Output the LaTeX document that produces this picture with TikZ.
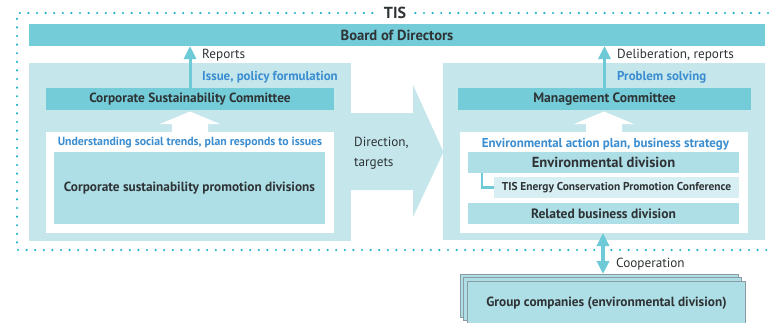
\documentclass[tikz,border=0pt]{standalone}
\usepackage{fontspec}
\setmainfont{PT Sans}
\usetikzlibrary{arrows.meta}
\definecolor{dotc}{HTML}{1FB3C9}
\definecolor{barc}{HTML}{73CCD8}
\definecolor{panelc}{HTML}{C5E7EC}
\definecolor{innerc}{HTML}{AFDFE6}
\definecolor{palec}{HTML}{D7EFF3}
\definecolor{bluet}{HTML}{3A8DD0}
\definecolor{darkt}{HTML}{2E3336}
\definecolor{arrowc}{HTML}{6DCAD6}
\definecolor{edgec}{HTML}{8C9BA1}
\newcommand{\fsz}[1]{\fontsize{#1}{#1}\selectfont}
\begin{document}
\begin{tikzpicture}[x=1pt,y=-1pt,
  box/.style={inner sep=0pt, outer sep=0pt, anchor=center, text=darkt,
    font=\bfseries\fsz{13.3}},
  bar/.style={box, fill=barc},
  panel/.style={box, fill=panelc},
  whitebox/.style={box, fill=white},
  innerbox/.style={box, fill=innerc},
  palebox/.style={box, fill=palec, font=\bfseries\fsz{11.4}},
  grpbox/.style={box, fill=innerc, draw=edgec, line width=0.8pt},
  bluelabel/.style={inner sep=0pt, text=bluet, font=\bfseries\fsz{12.9}},
  graylabel/.style={inner sep=0pt, anchor=west, text=darkt, font=\fontsize{13.2}{20}\selectfont},
  thinarrow/.style={draw=arrowc, line width=3pt, -{Triangle[width=12pt,length=13pt]}},
  coop/.style={draw=arrowc, line width=4pt, {Triangle[width=12pt,length=13pt]}-{Triangle[width=12pt,length=13pt]}},
  dotline/.style={draw=dotc, line width=2.4pt, line cap=round, dash pattern=on 0pt off 8.6pt},
  ]
\useasboundingbox (0,0) rectangle (771,322);
% TIS frame
\coordinate (ftl) at (17,13);
\coordinate (ftr) at (768,13);
\coordinate (fbl) at (17,250);
\coordinate (fbr) at (768,250);
\draw[dotline] (ftr) -- (ftl) -- (fbl) -- (fbr);
\node[fill=white, inner sep=4pt, text=darkt, font=\bfseries\fsz{16}] (tis) at (395,13) {TIS};
% Board
\node[bar, minimum width=736pt, minimum height=22pt, font=\bfseries\fsz{14.6}] (board) at (397,35) {Board of Directors};
% panels
\node[panel, minimum width=322pt, minimum height=178pt] (lpanel) at (190,152) {};
\node[panel, minimum width=322pt, minimum height=177pt] (rpanel) at (604,151.5) {};
% chevron
\fill[panelc] (340,113) -- (413,113) -- (413,85) -- (443.5,152) -- (413,217) -- (413,190) -- (340,190) -- cycle;
% committees
\node[bar, minimum width=288pt, minimum height=22pt] (csc) at (190,99) {Corporate Sustainability Committee};
\node[bar, minimum width=293pt, minimum height=22pt, font=\bfseries\fsz{13.6}] (mc) at (604.5,99) {Management Committee};
% white boxes
\node[whitebox, minimum width=288pt, minimum height=101pt] (lwhite) at (190,182.5) {};
\node[whitebox, minimum width=288pt, minimum height=101pt] (rwhite) at (604,182.5) {};
% white block arrows
\fill[white] (172,133) -- (172,124) -- (160,124) -- (190,111.5) -- (220,124) -- (208,124) -- (208,133) -- cycle;
\fill[white] (586,133) -- (586,124) -- (574,124) -- (604,111.5) -- (634,124) -- (622,124) -- (622,133) -- cycle;
% blue texts
\node[bluelabel, font=\bfseries\fsz{11.8}] (ltxt) at (190,143) {Understanding social trends, plan responds to issues};
\node[bluelabel] (rtxt) at (605.5,144) {Environmental action plan, business strategy};
% inner boxes
\node[innerbox, minimum width=271pt, minimum height=72pt] (cspd) at (189.5,188) {Corporate sustainability promotion divisions};
\node[innerbox, minimum width=271pt, minimum height=21pt, font=\bfseries\fsz{14.6}] (env) at (603.5,162.5) {Environmental division};
\node[palebox, minimum width=245pt, minimum height=21pt] (conf) at (616.5,187.5) {TIS Energy Conservation Promotion Conference};
\node[innerbox, minimum width=271pt, minimum height=21pt, font=\bfseries\fsz{13.5}] (rel) at (603.5,213.5) {Related business division};
\draw[arrowc, line width=2.5pt] (env.south -| 482,0) |- (conf.west);
% arrows to board
\draw[thinarrow] (csc.north) -- (csc.north |- board.south);
\draw[thinarrow] (mc.north) -- (mc.north |- board.south);
% labels
\node[graylabel] (rep) at (202,55) {Reports};
\node[bluelabel, anchor=west] (ipf) at (202,77) {Issue, policy formulation};
\node[graylabel] (dr) at (617,55) {Deliberation, reports};
\node[bluelabel, anchor=west] (ps) at (617,77) {Problem solving};
\node[graylabel, align=left] (dt) at (354,153) {Direction,\\targets};
% group companies
\node[grpbox, minimum width=278pt, minimum height=43pt] (grp3) at (599,295.5) {};
\node[grpbox, minimum width=278pt, minimum height=43pt] (grp2) at (602.5,299) {};
\node[grpbox, minimum width=278pt, minimum height=43pt] (grp) at (606,302.5) {};
\node[box] (grptxt) at (606.5,303) {Group companies (environmental division)};
\draw[coop] (rwhite.south -| 603,0) -- (grp3.north -| 603,0);
\node[graylabel] (coopl) at (616,264) {Cooperation};
\end{tikzpicture}
\end{document}
